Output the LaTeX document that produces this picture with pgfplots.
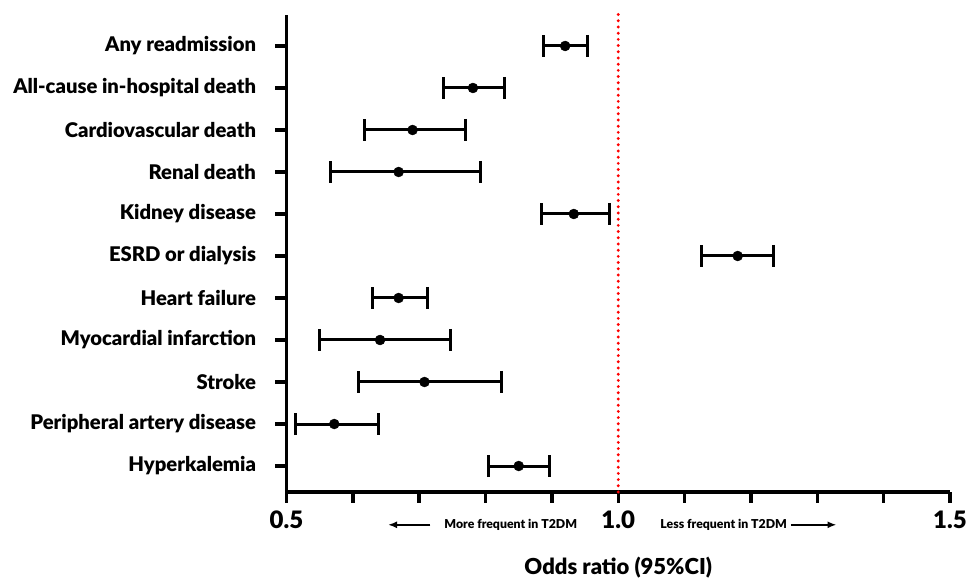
\documentclass[border=0pt]{standalone}
\usepackage{pgfplots}
\pgfplotsset{compat=1.18}
\usepackage{pgfplotstable}
\usetikzlibrary{arrows.meta}
\usepackage{fontspec}
\setmainfont{Lato}[BoldFont={Lato Black}]

% odds ratios with 95% CI, row 11 at the top
\pgfplotstableread{
y  or     lo     hi
11 0.920  0.888  0.953
10 0.781  0.737  0.829
9  0.690  0.617  0.770
8  0.669  0.566  0.792
7  0.933  0.884  0.987
6  1.180  1.126  1.234
5  0.669  0.629  0.712
4  0.641  0.549  0.747
3  0.708  0.608  0.824
2  0.572  0.513  0.639
1  0.850  0.805  0.897
}\ortable

\begin{document}
\begin{tikzpicture}
\useasboundingbox (-286.5pt,-88pt) rectangle (681.5pt,492pt);
\begin{axis}[
    at={(0,0)}, anchor=south west,
    width=663.5pt, height=477pt, scale only axis,
    xmin=0.5, xmax=1.5, ymin=0.381, ymax=11.738,
    axis lines*=left,
    axis line style={line width=3.5pt},
    clip=false,
    xtick={0.5,0.6,...,1.51},
    xticklabels={0.5,,,,,1.0,,,,,1.5},
    ytick={1,...,11},
    yticklabels={Hyperkalemia, Peripheral artery disease, Stroke, Myocardial infarction, Heart failure, ESRD or dialysis, Kidney disease, Renal death, Cardiovascular death, All-cause in-hospital death, Any readmission},
    tick align=outside,
    major tick length=11pt,
    tick style={line width=3.5pt, black},
    xticklabel style={font=\bfseries\fontsize{24}{24}\selectfont, yshift=-4pt},
    yticklabel style={font=\bfseries\fontsize{20.2}{20.2}\selectfont, xshift=-16pt},
    /pgf/number format/assume math mode=true,
    xlabel={Odds ratio (95\%CI)},
    xlabel style={font=\bfseries\fontsize{22}{22}\selectfont, at={(rel axis cs:0.5,0)}, anchor=center, yshift=-76pt},
]
\addplot[red, line width=3.2pt, line cap=round, dash pattern=on 0pt off 6.2pt] coordinates {(1,0.381) (1,11.8)};
\addplot[black, only marks, mark=*, mark size=5pt,
    error bars/.cd, x dir=both, x explicit,
    error bar style={line width=3pt},
    error mark options={rotate=90, mark size=11pt, line width=3pt}]
    table[x=or, y=y,
      x error plus expr=\thisrow{hi}-\thisrow{or},
      x error minus expr=\thisrow{or}-\thisrow{lo}] {\ortable};
\draw[line width=1.8pt, -{Latex[length=9pt,width=7pt]}] (axis cs:0.717,-0.40) -- (axis cs:0.653,-0.40);
\node[font=\bfseries\fontsize{12.3}{12.3}\selectfont] at (axis cs:0.838,-0.40) {More frequent in T2DM};
\node[font=\bfseries\fontsize{12.3}{12.3}\selectfont] at (axis cs:1.159,-0.40) {Less frequent in T2DM};
\draw[line width=1.8pt, -{Latex[length=9pt,width=7pt]}] (axis cs:1.260,-0.40) -- (axis cs:1.329,-0.40);
\end{axis}
\end{tikzpicture}
\end{document}
